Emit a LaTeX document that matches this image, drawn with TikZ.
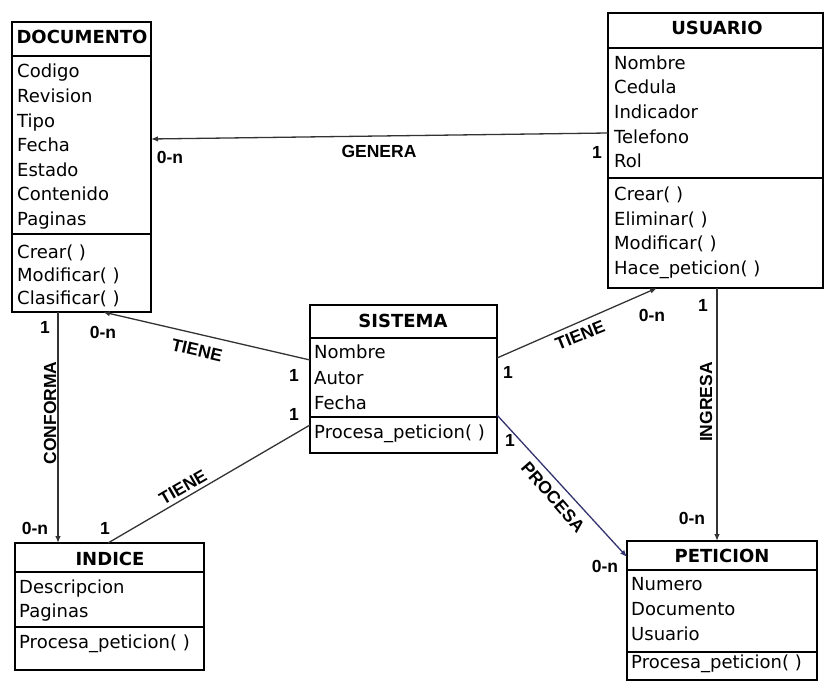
\documentclass[tikz,border=0pt]{standalone}
\usepackage{fontspec}
\setmainfont{DejaVu Sans}
\newfontfamily\lblfont{Liberation Sans}
\usetikzlibrary{arrows.meta,calc}

\begin{document}
\begin{tikzpicture}[x=1pt,y=-1pt,
  classbox/.style={draw=black, line width=2.6pt, fill=white, anchor=north west,
                   inner sep=0pt, outer sep=0pt},
  divider/.style={line width=1.6pt},
  ctitle/.style={font=\fontsize{18}{20}\selectfont\bfseries, anchor=base, inner sep=0pt},
  cattr/.style={font=\fontsize{18}{20}\selectfont, anchor=base west, inner sep=0pt},
  assoc/.style={draw=black!80, line width=1.3pt},
  tip/.style={-{Latex[length=7pt,width=5.5pt]}},
  mult/.style={font=\lblfont\bfseries\fontsize{17.5}{19}\selectfont, inner sep=0pt},
  rel/.style={font=\lblfont\bfseries\fontsize{17.5}{19}\selectfont, inner sep=0pt},
]
\useasboundingbox[fill=white] (0,0) rectangle (826,682);

% ---------- DOCUMENTO ----------
\node[classbox, minimum width=139pt, minimum height=290pt] (doc) at (12,22) {};
\draw[divider] (doc.west |- 0,56) -- (doc.east |- 0,56);
\draw[divider] (doc.west |- 0,234) -- (doc.east |- 0,234);
\node[ctitle] (docT) at (82,44) {DOCUMENTO};
\foreach \t/\b [count=\i] in {Codigo/78, Revision/102.5, Tipo/127, Fecha/151.5,
    Estado/176, Contenido/200.5, Paginas/225, Crear( )/258, Modificar( )/281,
    Clasificar( )/304}
  \node[cattr] (docA\i) at (17,\b) {\t};

% ---------- USUARIO ----------
\node[classbox, minimum width=215pt, minimum height=275pt] (usu) at (608,13) {};
\draw[divider] (usu.west |- 0,48) -- (usu.east |- 0,48);
\draw[divider] (usu.west |- 0,178) -- (usu.east |- 0,178);
\node[ctitle] (usuT) at (717,35) {USUARIO};
\foreach \t/\b [count=\i] in {Nombre/70, Cedula/94, Indicador/118, Telefono/143,
    Rol/167, Crear( )/200, Eliminar( )/225, Modificar( )/249,
    Hace\_peticion( )/274}
  \node[cattr] (usuA\i) at (614,\b) {\t};

% ---------- SISTEMA ----------
\node[classbox, minimum width=187pt, minimum height=148pt] (sis) at (310,305) {};
\draw[divider] (sis.west |- 0,338) -- (sis.east |- 0,338);
\draw[divider] (sis.west |- 0,417) -- (sis.east |- 0,417);
\node[ctitle] (sisT) at (403,327) {SISTEMA};
\foreach \t/\b [count=\i] in {Nombre/358, Autor/384, Fecha/409,
    Procesa\_peticion( )/438}
  \node[cattr] (sisA\i) at (314,\b) {\t};

% ---------- INDICE ----------
\node[classbox, minimum width=189pt, minimum height=127pt] (ind) at (15,543) {};
\draw[divider] (ind.west |- 0,572) -- (ind.east |- 0,572);
\draw[divider] (ind.west |- 0,627) -- (ind.east |- 0,627);
\node[ctitle] (indT) at (110,565) {INDICE};
\foreach \t/\b [count=\i] in {Descripcion/593, Paginas/617, Procesa\_peticion( )/648}
  \node[cattr] (indA\i) at (19,\b) {\t};

% ---------- PETICION ----------
\node[classbox, minimum width=190pt, minimum height=139pt] (pet) at (627,541) {};
\draw[divider] (pet.west |- 0,570) -- (pet.east |- 0,570);
\draw[divider] (pet.west |- 0,652) -- (pet.east |- 0,652);
\node[ctitle] (petT) at (722,562) {PETICION};
\foreach \t/\b [count=\i] in {Numero/590, Documento/615, Usuario/640,
    Procesa\_peticion( )/668}
  \node[cattr] (petA\i) at (631,\b) {\t};

% ---------- associations ----------
% GENERA
\draw[assoc,tip] (usu.west |- 0,133) -- (doc.east |- 0,139);
\node[mult] (m1) at (170,157) {0-n};
\node[rel]  (r1) at (379,151) {GENERA};
\node[mult] (m2) at (597,152) {1};

% CONFORMA
\draw[assoc,tip] (doc.south -| 58,0) -- (ind.north -| 58,0);
\node[mult] (m3) at (45,327) {1};
\node[rel, rotate=90] (r2) at (50,413) {CONFORMA};
\node[mult] (m4) at (35,528) {0-n};

% TIENE (SISTEMA - DOCUMENTO)
\draw[assoc,tip] (sis.west |- 0,360) -- (doc.south -| 103,0);
\node[mult] (m5) at (103,332) {0-n};
\node[rel, rotate=-13] (r3) at (197,350) {TIENE};
\node[mult] (m6) at (294,375) {1};

% TIENE (SISTEMA - INDICE)
\draw[assoc] (sis.west |- 0,425) -- (ind.north -| 108,0);
\node[mult] (m7) at (294,414) {1};
\node[rel, rotate=30] (r4) at (183,487) {TIENE};
\node[mult] (m8) at (105,528) {1};

% TIENE (SISTEMA - USUARIO)
\draw[assoc,tip] (sis.east |- 0,358) -- (usu.south -| 657,0);
\node[mult] (m9) at (508,372) {1};
\node[rel, rotate=22] (r5) at (580,335) {TIENE};
\node[mult] (m10) at (652,315) {0-n};

% INGRESA
\draw[assoc,tip] (usu.south -| 717,0) -- (pet.north -| 717,0);
\node[mult] (m11) at (703,305) {1};
\node[rel, rotate=90] (r6) at (706,402) {INGRESA};
\node[mult] (m12) at (692,518) {0-n};

% PROCESA
\draw[assoc,tip,draw=black!70!blue!80] (sis.east |- 0,415) -- (pet.west |- 0,557);
\node[mult] (m13) at (510,440) {1};
\node[rel, rotate=-49] (r7) at (553,497) {PROCESA};
\node[mult] (m14) at (605,566) {0-n};
\end{tikzpicture}
\end{document}
